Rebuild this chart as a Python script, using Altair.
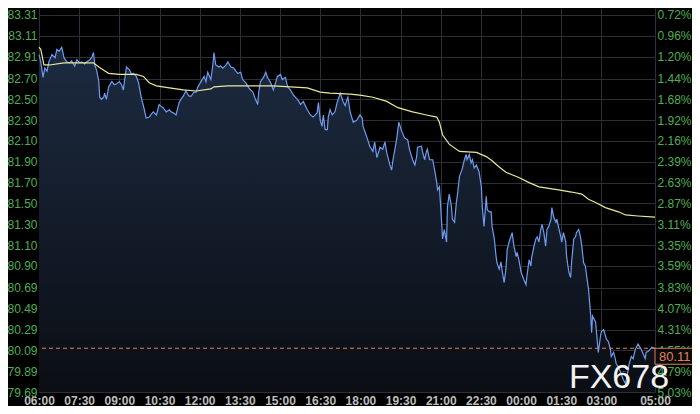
import json
import altair as alt
import pandas as pd

# ---------------- data ----------------
# minutes since 06:00
PRICE_MIN = [0,4,9,13,18,22,29,36,40,45,51,56,62,69,73,80,85,91,96,102,107,114,118,122,125,129,134,136,140,145,147,151,156,163,169,174,180,185,189,191,196,203,207,211,218,223,229,236,240,247,252,256,263,269,274,278,285,292,296,301,307,314,318,323,329,336,341,347,352,356,363,370,374,378,385,390,392,396,403,407,412,419,423,430,436,441,445,452,456,463,470,474,479,485,490,492,496,503,508,512,519,525,530,534,541,545,552,557,563,570,579,586,592,601,608,614,623,626,630,634,637,641,646,648,652,657,663,668,675,681,686,690,692,697,704,712,719,724,726,735,741,748,752,757,764,770,775,779,786,790,793,801,806,813,819,826,830,837,842,846,848,857,859,864,868,870,875,882,886,891,893,897,902,904,908,913,915,919,924,926,931,935,937,942,948,953,957,959,964,968,971,975,980,986,991,993,997,1002,1004,1009,1013,1015,1020,1024,1026,1031,1035,1037,1042,1046,1049,1053,1060,1064,1069,1071,1075,1080,1086,1091,1093,1098,1102,1104,1109,1113,1116,1120,1124,1127,1131,1135,1138,1142,1147,1149,1153,1158,1160,1164,1169,1171,1175,1180,1182,1187,1191,1193,1198,1202,1204,1209,1213,1216,1220,1224,1227,1231,1236,1238,1240,1247,1249,1253,1258,1260,1265,1269,1271,1276,1280,1282,1287,1291,1293,1298,1302,1309,1314,1318,1322,1327,1331,1336,1342,1349,1354,1358,1360,1365,1369,1373,1380]
PRICE = [82.93,82.86,82.71,82.80,82.77,82.86,82.93,82.90,82.98,82.96,83.00,82.90,82.86,82.85,82.87,82.82,82.88,82.85,82.86,82.84,82.86,82.88,82.90,82.95,82.83,82.78,82.67,82.52,82.50,82.52,82.56,82.50,82.62,82.67,82.64,82.65,82.67,82.64,82.59,82.66,82.81,82.78,82.74,82.75,82.72,82.66,82.52,82.40,82.32,82.33,82.36,82.38,82.35,82.45,82.43,82.42,82.38,82.40,82.38,82.37,82.35,82.47,82.50,82.53,82.58,82.53,82.53,82.57,82.57,82.62,82.67,82.72,82.67,82.76,82.69,82.85,82.95,82.83,82.81,82.82,82.80,82.83,82.86,82.81,82.80,82.77,82.75,82.76,82.69,82.66,82.61,82.59,82.57,82.50,82.45,82.56,82.67,82.71,82.76,82.71,82.66,82.59,82.66,82.72,82.74,82.69,82.71,82.62,82.59,82.54,82.50,82.45,82.48,82.40,82.35,82.33,82.37,82.47,82.30,82.24,82.35,82.21,82.21,82.33,82.40,82.35,82.38,82.47,82.56,82.48,82.44,82.50,82.52,82.38,82.28,82.30,82.35,82.32,82.24,82.13,82.05,82.00,82.09,81.94,82.04,82.02,82.09,81.99,81.87,81.82,81.92,82.11,82.28,82.19,82.13,82.11,82.02,81.92,81.87,81.95,82.04,82.05,82.00,81.92,82.00,82.02,81.92,81.92,81.83,81.70,81.63,81.66,81.32,81.16,81.25,81.13,81.47,81.59,81.47,81.35,81.32,81.51,81.57,81.76,81.83,81.92,81.97,81.92,81.97,81.89,81.92,81.84,81.87,81.80,81.66,81.47,81.28,81.57,81.44,81.42,81.42,81.28,81.16,80.99,80.93,80.87,80.94,80.87,80.74,80.87,81.06,81.13,81.22,81.09,80.99,81.03,80.96,80.84,80.77,80.72,80.80,80.96,80.90,80.99,81.09,81.16,81.18,81.13,81.25,81.30,81.22,81.09,81.25,81.28,81.35,81.46,81.37,81.32,81.35,81.27,81.18,81.13,81.22,81.13,80.99,80.84,80.79,80.93,81.16,81.18,81.22,81.25,81.18,81.09,80.93,80.90,80.80,80.68,80.42,80.26,80.42,80.36,80.26,80.07,80.23,80.27,80.29,80.23,80.20,80.17,80.10,80.03,80.07,80.01,79.96,79.93,79.89,79.81,79.77,79.86,79.96,80.03,80.01,80.10,80.15,80.10,80.05,80.01,80.07,80.08,80.10,80.12,80.11]

AVG_MIN = [0,4,11,24,56,85,122,134,145,156,180,218,234,247,263,292,323,352,385,392,423,525,563,601,630,652,697,719,748,779,804,837,868,891,897,904,919,942,980,1002,1015,1031,1046,1075,1098,1120,1164,1193,1216,1231,1247,1269,1298,1314,1342,1380]
AVG = [83.00,82.98,82.83,82.83,82.85,82.85,82.85,82.81,82.78,82.75,82.74,82.74,82.72,82.66,82.63,82.61,82.59,82.58,82.60,82.62,82.63,82.63,82.62,82.61,82.57,82.56,82.55,82.54,82.52,82.48,82.42,82.38,82.35,82.33,82.28,82.16,82.07,82.00,81.99,81.95,81.91,81.85,81.80,81.75,81.70,81.66,81.63,81.61,81.59,81.54,81.51,81.46,81.42,81.39,81.38,81.37]

LAST_PRICE = [80.11]

LEFT_TICKS = [83.31,83.11,82.91,82.70,82.50,82.30,82.10,81.90,81.70,81.50,81.30,81.10,80.90,80.69,80.49,80.29,80.09,79.89,79.69]
RIGHT_LABELS = ["0.72%","0.96%","1.20%","1.44%","1.68%","1.92%","2.16%","2.39%","2.63%","2.87%","3.11%","3.35%","3.59%","3.83%","4.07%","4.31%","4.55%","4.79%","5.03%"]

TIME_TICKS = [0,90,180,270,360,450,540,630,720,810,900,990,1080,1170,1260,1380]
TIME_LABELS = ["06:00","07:30","09:00","10:30","12:00","13:30","15:00","16:30","18:00","19:30","21:00","22:30","00:00","01:30","03:00","05:00"]

Y_DOMAIN = [79.69, 83.377]
X_DOMAIN = [0, 1380]

# ---------------- styling ----------------
W, H = 616, 384
GREEN = "#4fae52"
GRID = "#2a2f38"
BLUE = "#6d9cf0"
YELLOW = "#e8e79a"
SALMON = "#e0805a"
FONT = "Liberation Sans"

price_df = pd.DataFrame({"t": PRICE_MIN, "price": PRICE})
avg_df = pd.DataFrame({"t": AVG_MIN, "price": AVG})
last_df = pd.DataFrame({"t": [PRICE_MIN[-1]], "price": LAST_PRICE,
                        "label": [f"{LAST_PRICE[0]:.2f}"]})

x_label_expr = f"{json.dumps(TIME_LABELS)}[indexof({json.dumps(TIME_TICKS)}, datum.value)]"
right_label_expr = f"{json.dumps(RIGHT_LABELS)}[indexof({json.dumps(LEFT_TICKS)}, datum.value)]"

x_scale = alt.Scale(domain=X_DOMAIN, nice=False, zero=False)
y_scale = alt.Scale(domain=Y_DOMAIN, nice=False, zero=False)

x_axis = alt.Axis(values=TIME_TICKS, labelExpr=x_label_expr, title=None,
                  grid=True, gridColor=GRID, domain=False, ticks=False,
                  labelColor="#bdbdbd", labelFont=FONT, labelFontSize=12,
                  labelFontWeight="bold", labelPadding=3, labelFlush=False,
                  labelOverlap=False)

left_axis = alt.Axis(values=LEFT_TICKS, format=".2f", title=None, grid=True,
                     gridColor=GRID, domain=False, ticks=False, labelColor=GREEN,
                     labelFont=FONT, labelFontSize=12, labelPadding=2,
                     labelOverlap=False, labelFlush=False)

right_axis = alt.Axis(values=LEFT_TICKS, labelExpr=right_label_expr, title=None,
                      orient="right", grid=False, domain=False, ticks=False,
                      labelColor=GREEN, labelFont=FONT, labelFontSize=12,
                      labelPadding=2, labelOverlap=False, labelFlush=False)

x_enc = alt.X("t:Q", scale=x_scale, axis=x_axis)
y_enc = alt.Y("price:Q", scale=y_scale, axis=left_axis)

area = alt.Chart(price_df).mark_area(
    color=alt.Gradient(gradient="linear",
                       stops=[alt.GradientStop(color="#1c2a40", offset=0),
                              alt.GradientStop(color="#0b0e14", offset=1)],
                       x1=1, x2=1, y1=0, y2=1),
    interpolate="linear"
).encode(x=x_enc, y=y_enc, y2=alt.datum(Y_DOMAIN[0]))

price_line = alt.Chart(price_df).mark_line(color=BLUE, strokeWidth=1.2).encode(
    x=x_enc, y=y_enc)

avg_line = alt.Chart(avg_df).mark_line(color=YELLOW, strokeWidth=1.2).encode(
    x=x_enc, y=y_enc)

last_rule = alt.Chart(last_df).mark_rule(color=SALMON, strokeDash=[4, 3],
                                         strokeWidth=1).encode(y=y_enc)

label_box = alt.Chart(last_df).mark_point(
    shape="M0,0L2.2,0L2.2,0.8L0,0.8Z", size=1600, filled=True,
    fill="#0a0a0a", stroke=SALMON, strokeWidth=1, opacity=1
).encode(x=x_enc, y=y_enc)

label_text = alt.Chart(last_df).mark_text(
    align="left", baseline="middle", dx=4, dy=9, color=SALMON,
    font=FONT, fontSize=13
).encode(x=x_enc, y=y_enc, text="label:N")

watermark = alt.Chart(last_df).mark_text(
    text="FX678", color="#f2f2f2", font=FONT, fontSize=34, align="center",
    baseline="middle"
).encode(x=alt.value(W - 36), y=alt.value(H - 14))

left_layer = alt.layer(area, price_line, avg_line, last_rule, watermark,
                       label_box, label_text)

right_layer = alt.Chart(price_df).mark_line(opacity=0).encode(
    x=x_enc, y=alt.Y("price:Q", scale=y_scale, axis=right_axis))

chart = alt.layer(left_layer, right_layer).resolve_scale(y="independent").properties(
    width=W, height=H, background="#000000",
    autosize=alt.AutoSizeParams(type="none"),
    padding={"left": 31, "top": 0, "right": 37, "bottom": 14}
).configure_view(stroke=None).configure_axis(labelOverlap=False)

chart.save("out.html", embed_options={"renderer": "svg", "actions": False})
